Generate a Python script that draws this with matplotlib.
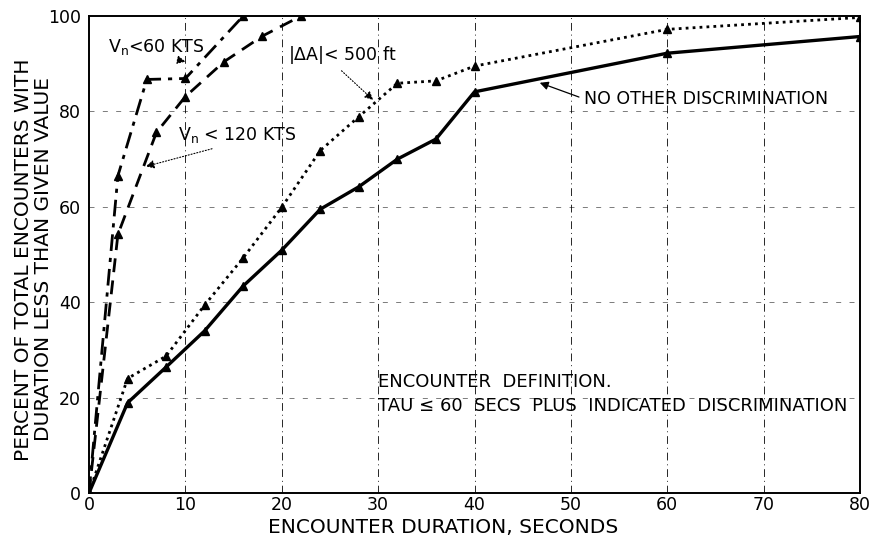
import matplotlib
matplotlib.use("Agg")
import matplotlib.pyplot as plt

# encounter duration (s) vs cumulative percent
no_disc_x = [0, 4, 8, 12, 16, 20, 24, 28, 32, 36, 40, 60, 80]
no_disc_y = [0, 18.9, 26.4, 34.0, 43.4, 50.9, 59.5, 64.2, 70.0, 74.2, 84.1, 92.2, 95.7]

alt_x = [0, 4, 8, 12, 16, 20, 24, 28, 32, 36, 40, 60, 80]
alt_y = [0, 24.0, 28.7, 39.4, 49.3, 59.9, 71.8, 78.9, 85.9, 86.4, 89.5, 97.2, 99.7]

vn60_x = [0, 3, 6, 10, 16]
vn60_y = [0, 66.5, 86.7, 86.9, 100]

vn120_x = [0, 3, 7, 10, 14, 18, 22]
vn120_y = [0, 54.2, 75.6, 83.1, 90.4, 95.8, 100]

x_ticks = [0, 10, 20, 30, 40, 50, 60, 70, 80]
y_ticks = [0, 20, 40, 60, 80, 100]

plt.rcParams['font.family'] = ['DejaVu Sans']

fig = plt.figure(figsize=(8.76, 5.46), dpi=100)
ax = fig.add_axes([89 / 876, 1 - 493 / 546, (860 - 89) / 876, (493 - 16) / 546])

for xv in x_ticks[1:-1]:
    ax.axvline(xv, color="black", lw=0.7, ls=(0, (8, 4, 1, 4)), alpha=0.85, zorder=1)
for yv in y_ticks[1:-1]:
    ax.axhline(yv, color="black", lw=0.6, ls=(0, (6, 10)), alpha=0.6, zorder=1)

ax.plot(no_disc_x, no_disc_y, color="black", lw=2.4, ls="-", marker="^", ms=6, zorder=3)
ax.plot(alt_x, alt_y, color="black", lw=2.0, ls=(0, (1, 1.5)), marker="^", ms=6, zorder=3)
ax.plot(vn60_x, vn60_y, color="black", lw=2.0, ls=(0, (6, 2.5, 1.5, 2.5)), marker="^", ms=6, zorder=3)
ax.plot(vn120_x, vn120_y, color="black", lw=2.0, ls=(0, (5, 3)), marker="^", ms=6, zorder=3)

ax.set_xlim(0, 80)
ax.set_ylim(0, 100)
ax.set_xticks(x_ticks)
ax.set_yticks(y_ticks)
ax.tick_params(length=0, labelsize=12.5, pad=6)
ax.tick_params(axis="x", pad=2)
for s in ax.spines.values():
    s.set_linewidth(1.4)

ax.set_xlabel("ENCOUNTER DURATION, SECONDS", fontsize=14.5)
ax.xaxis.set_label_coords(0.459, -0.052)
ax.set_ylabel("PERCENT OF TOTAL ENCOUNTERS WITH\nDURATION LESS THAN GIVEN VALUE", fontsize=14.5,
              linespacing=1.05)
ax.yaxis.set_label_coords(-0.047, 0.49)

ax.annotate(r"V$_\mathregular{n}$<60 KTS", xy=(10.3, 90.3), xytext=(2.0, 93.5),
            fontsize=12.5, va="center",
            arrowprops=dict(arrowstyle="-|>", color="black", lw=0.8, linestyle=":",
                            relpos=(0.5, 0.1), shrinkA=0))
ax.annotate(r"V$_\mathregular{n}$ < 120 KTS", xy=(5.6, 68.3), xytext=(9.2, 75.0),
            fontsize=12.5, va="center",
            arrowprops=dict(arrowstyle="-|>", color="black", lw=0.8, linestyle=":",
                            relpos=(0.4, 0.0)))
ax.annotate(r"$|\Delta$A$|$< 500 ft", xy=(29.7, 82.0), xytext=(20.6, 91.8),
            fontsize=12.5, va="center",
            arrowprops=dict(arrowstyle="-|>", color="black", lw=0.8, linestyle=":",
                            relpos=(0.45, 0.0)))
ax.annotate("NO OTHER DISCRIMINATION", xy=(46.5, 86.2), xytext=(51.4, 82.6),
            fontsize=12.5, va="center",
            arrowprops=dict(arrowstyle="-|>", color="black", lw=0.9, relpos=(0.0, 0.5)))

ax.text(30.0, 23.3, "ENCOUNTER  DEFINITION.", fontsize=13, va="center")
ax.text(30.0, 18.2, "TAU \u2264 60  SECS  PLUS  INDICATED  DISCRIMINATION", fontsize=13, va="center")

plt.savefig("out.png", dpi=100)
plt.close(fig)
